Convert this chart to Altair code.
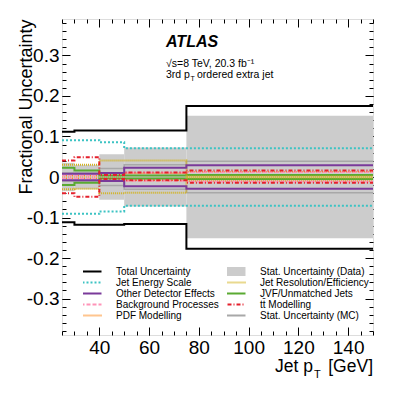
import altair as alt
import pandas as pd

# ---------------- data ----------------
edges = [25, 30, 40, 50, 75, 150]

# legend order (Vega fills the 2-column legend column by column)
labels = ["Total Uncertainty", "Jet Energy Scale", "Other Detector Effects",
          "Background Processes", "PDF Modelling",
          "Stat. Uncertainty (Data)", "Jet Resolution/Efficiency",
          "JVF/Unmatched Jets", "tt\u0304 Modelling", "Stat. Uncertainty (MC)"]
colors = ["#000000", "#3cc3c3", "#7a3a9a", "#ff93b8", "#ff8a1e",
          "#cccccc", "#d2b21e", "#5aaa32", "#e4202c", "#a8a8a8"]
dashes = [[1, 0], [2, 2], [1, 0], [4, 2], [1, 1],
          [1, 0], [1, 1], [1, 0], [4, 2, 1, 2], [1, 0]]
line_w = {"Total Uncertainty": 2, "Jet Energy Scale": 2, "Other Detector Effects": 2,
          "Background Processes": 1.5, "PDF Modelling": 1.5,
          "Jet Resolution/Efficiency": 2, "JVF/Unmatched Jets": 2,
          "tt\u0304 Modelling": 2, "Stat. Uncertainty (MC)": 1.5}

stat_data = [0.035, 0.030, 0.056, 0.073, 0.151]

total_up = [0.112, 0.115, 0.115, 0.115, 0.175]
total_dn = [-0.112, -0.118, -0.118, -0.116, -0.177]
jes_up = [0.091, 0.091, 0.086, 0.071, 0.071]
jes_dn = [-0.091, -0.091, -0.085, -0.071, -0.071]
jer_up = [0.030, 0.030, 0.041, 0.041, 0.001]
jer_dn = [-0.030, -0.029, -0.040, -0.039, -0.001]
other_up = [0.008, 0.008, 0.010, 0.023, 0.029]
other_dn = [-0.008, -0.008, -0.010, -0.023, -0.029]
jvf_up = [0.023, 0.016, 0.004, 0.004, 0.005]
jvf_dn = [-0.020, -0.014, -0.004, -0.004, -0.005]
bkg_up = [0.004, 0.004, 0.004, 0.011, 0.012]
bkg_dn = [-0.004, -0.004, -0.004, -0.010, -0.012]
ttbar_up = [0.041, 0.049, 0.005, 0.011, 0.016]
ttbar_dn = [-0.040, -0.049, -0.005, -0.008, -0.014]
pdf_up = [0.003, 0.003, 0.003, 0.009, 0.013]
pdf_dn = [-0.003, -0.003, -0.003, -0.008, -0.010]
statmc_up = [0.010, 0.010, 0.021, 0.030, 0.039]
statmc_dn = [-0.010, -0.010, -0.021, -0.030, -0.039]

series = [
    ("Stat. Uncertainty (MC)", statmc_up, statmc_dn),
    ("PDF Modelling", pdf_up, pdf_dn),
    ("Background Processes", bkg_up, bkg_dn),
    ("JVF/Unmatched Jets", jvf_up, jvf_dn),
    ("Jet Resolution/Efficiency", jer_up, jer_dn),
    ("Other Detector Effects", other_up, other_dn),
    ("tt\u0304 Modelling", ttbar_up, ttbar_dn),
    ("Jet Energy Scale", jes_up, jes_dn),
    ("Total Uncertainty", total_up, total_dn),
]

rows = []
for k, (name, up, dn) in enumerate(series):
    for side, vals in (("up", up), ("dn", dn)):
        pts = list(zip(edges[:-1], vals)) + [(edges[-1], vals[-1])]
        for i, (xv, yv) in enumerate(pts):
            rows.append({"series": name, "side": side, "x": xv, "y": yv,
                         "w": line_w[name], "i": i})
lines_df = pd.DataFrame(rows)

band_df = pd.DataFrame({"x0": edges[:-1], "x1": edges[1:],
                        "hi": stat_data, "lo": [-v for v in stat_data]})

# ---------------- layout ----------------
W, H = 311, 316
FONT = "Liberation Sans"
xs = alt.Scale(domain=[25, 150], nice=False, zero=False)
ys = alt.Scale(domain=[-0.39, 0.39], nice=False, zero=False)

x_major = [40, 60, 80, 100, 120, 140]
x_minor = list(range(25, 151, 5))
y_major = [-0.3, -0.2, -0.1, 0, 0.1, 0.2, 0.3]
y_minor = [round(-0.38 + 0.02 * i, 2) for i in range(39)]

band = alt.Chart(band_df).mark_rect(color="#cccccc").encode(
    x=alt.X("x0:Q", scale=xs, axis=None), x2="x1:Q",
    y=alt.Y("lo:Q", scale=ys, axis=None), y2="hi:Q")

leg = alt.Legend(orient="none", legendX=21, legendY=247, columns=2,
                 symbolType="stroke", symbolSize=729, clipHeight=11,
                 labelFontSize=10, labelFont=FONT, labelOffset=23,
                 columnPadding=8, rowPadding=0, title=None, padding=0,
                 labelLimit=300, labelColor="black",
                 symbolStrokeWidth=alt.ExprRef(
                     expr="datum.value === 'Stat. Uncertainty (Data)' ? 9 : 2"))

lines = alt.Chart(lines_df).mark_line(interpolate="step-after").encode(
    x=alt.X("x:Q", scale=xs, axis=None),
    y=alt.Y("y:Q", scale=ys, axis=None),
    color=alt.Color("series:N", scale=alt.Scale(domain=labels, range=colors), legend=leg),
    strokeDash=alt.StrokeDash("series:N", scale=alt.Scale(domain=labels, range=dashes), legend=leg),
    strokeWidth=alt.StrokeWidth("w:Q", scale=None, legend=None),
    detail="side:N",
    order="i:Q",
)


def axis_layer(xaxis, yaxis):
    return alt.Chart(band_df).mark_point(opacity=0).encode(
        x=alt.X("x0:Q", scale=xs, axis=xaxis),
        y=alt.Y("hi:Q", scale=ys, axis=yaxis))


common = dict(grid=False, title=None, tickColor="black", domain=False, labels=False,
              ticks=True, tickWidth=1)

main_axes = axis_layer(
    alt.Axis(orient="bottom", values=x_major, ticks=False, tickSize=0, domain=False,
             grid=False, labelFontSize=19, labelFont=FONT, labelColor="black",
             labelPadding=3, title=None, format="d"),
    alt.Axis(orient="left", values=y_major, ticks=False, tickSize=0, domain=False,
             grid=False, labelFontSize=19, labelFont=FONT, labelColor="black",
             labelPadding=3,
             labelExpr="datum.value == 0 ? '0' : '' + datum.value",
             title="Fractional Uncertainty", titleFontSize=18, titleFont=FONT,
             titleFontWeight="normal", titleColor="black", titleAnchor="end",
             titleAlign="right", titleBaseline="alphabetic", titleX=-31, titleY=0,
             titleAngle=270),
)
ax2 = axis_layer(alt.Axis(orient="top", offset=-H, values=x_major, tickSize=8, **common),
                 alt.Axis(orient="right", offset=-W, values=y_major, tickSize=8, **common))
ax3 = axis_layer(alt.Axis(orient="top", offset=-H, values=x_minor, tickSize=4, **common),
                 alt.Axis(orient="right", offset=-W, values=y_minor, tickSize=4, **common))
ax4 = axis_layer(alt.Axis(orient="bottom", offset=-H, values=x_major, tickSize=8, **common),
                 alt.Axis(orient="left", offset=-W, values=y_major, tickSize=8, **common))
ax5 = axis_layer(alt.Axis(orient="bottom", offset=-H, values=x_minor, tickSize=4, **common),
                 alt.Axis(orient="left", offset=-W, values=y_minor, tickSize=4, **common))

one = alt.Data(values=[{}])


def txt(t, x, y, size, align="left", weight="normal", style="normal"):
    return alt.Chart(one).mark_text(text=t, align=align, baseline="alphabetic",
                                    fontSize=size, font=FONT, fontWeight=weight,
                                    fontStyle=style, color="black").encode(
        x=alt.value(x), y=alt.value(y))


texts = [
    txt("ATLAS", 104, 28, 16, weight="bold", style="italic"),
    txt("\u221as=8 TeV, 20.3 fb\u207b\u00b9", 104, 48, 10.5),
    txt("3rd p", 104, 59, 10.5),
    txt("T", 128.5, 62, 7),
    txt("ordered extra jet", 135, 59, 10.5),
    txt("Jet p", 251, 353, 17.5, align="right"),
    txt("T", 252, 359, 11),
    txt("[GeV]", 311, 353, 17.5, align="right"),
]

chart = alt.layer(band, lines, main_axes, ax2, ax3, ax4, ax5, *texts).resolve_axis(
    x="independent", y="independent"
).properties(
    width=W, height=H,
    autosize=alt.AutoSizeParams(type="none"),
    padding={"left": 54, "top": 11, "right": 34, "bottom": 56},
).configure_view(stroke="black", strokeWidth=1.5).configure(font=FONT)

chart.save("out.html", embed_options={"renderer": "svg", "actions": False})
